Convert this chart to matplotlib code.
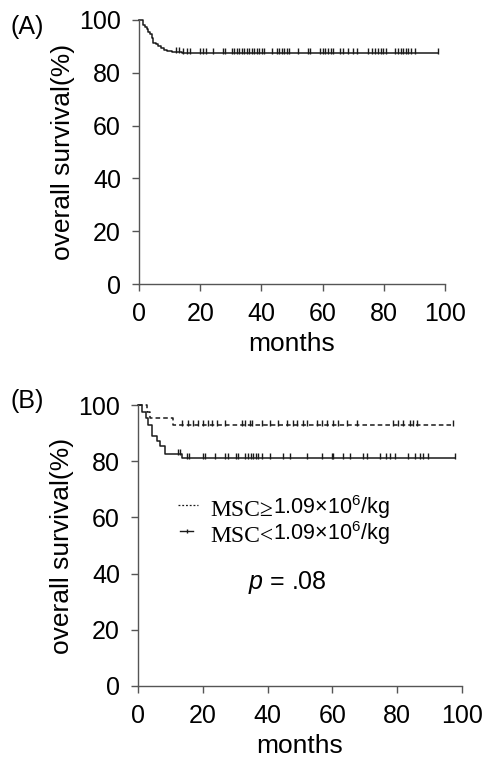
import matplotlib
matplotlib.use("Agg")
import matplotlib.pyplot as plt

plt.rcParams['font.family'] = ['Liberation Sans', 'DejaVu Sans']
plt.rcParams['mathtext.fontset'] = 'custom'
plt.rcParams['mathtext.rm'] = 'Liberation Sans'
plt.rcParams['mathtext.it'] = 'Liberation Sans:italic'

# (A) all patients: event times (months) and survival (%) after each event
all_t = [0, 1.4, 2.0, 2.5, 3.0, 3.6, 4.1, 4.5, 5.6, 6.3, 7.2, 8.3, 9.0, 10.7, 11.2, 14.0]
all_s = [100, 98.1, 97.5, 96.5, 95.6, 94.6, 93.3, 91.4, 90.8, 90.2, 89.3, 88.6, 88.3, 88.0, 87.8, 87.4]
all_end = 97.8
all_cens = [12.2, 13.2, 14.5, 15.6, 16.7, 19.9, 20.8, 21.9, 24.1, 27.3, 28.1, 30.3, 31.0,
            31.9, 32.7, 33.6, 34.4, 35.2, 36.1, 36.8, 37.7, 38.5, 39.3, 40.1, 40.9, 43.4,
            45.0, 45.9, 46.6, 47.5, 48.3, 49.1, 52.1, 55.1, 55.9, 59.2, 60.0, 60.8, 61.7,
            62.7, 63.5, 65.7, 66.8, 68.4, 69.8, 71.1, 74.9, 76.0, 77.1, 78.2, 79.0, 79.8,
            80.7, 83.7, 84.7, 85.5, 86.4, 87.3, 88.0, 88.8, 90.2, 97.8]

# (B) MSC dose >= 1.09e6/kg
hi_t = [0, 2.9, 3.7, 10.9]
hi_s = [100, 97.6, 95.2, 92.9]
hi_end = 97.3
hi_cens = [13.5, 15.5, 17.1, 18.6, 20.2, 21.7, 22.7, 24.3, 26.9, 32.0, 33.0, 34.6, 35.1,
           38.2, 40.7, 43.3, 45.9, 47.9, 49.0, 51.0, 52.1, 55.2, 56.7, 58.2, 60.3, 61.8,
           64.4, 67.5, 78.8, 80.3, 81.9, 84.0, 85.0, 86.0, 97.3]

# (B) MSC dose < 1.09e6/kg
lo_t = [0, 1.1, 2.5, 3.2, 4.2, 5.8, 6.8, 8.3, 13.5]
lo_s = [100, 97.6, 95.2, 92.9, 89.0, 87.3, 85.5, 82.5, 81.0]
lo_end = 97.8
lo_cens = [12.4, 13.0, 15.0, 15.8, 20.0, 20.7, 23.8, 26.9, 27.9, 30.2, 31.0, 33.0, 34.0,
           34.8, 35.6, 36.4, 37.1, 38.2, 40.7, 44.8, 46.9, 52.1, 56.7, 59.8, 60.3, 63.4,
           65.4, 69.5, 70.6, 74.7, 76.7, 77.8, 79.3, 83.4, 85.5, 87.0, 88.1, 89.6, 97.8]

ticks = [0, 20, 40, 60, 80, 100]
line_col = '#1a1a1a'
axis_col = '#555555'


def surv_at(times, surv, t):
    '''Survival value of a step curve at time t'''
    val = surv[0]
    for ti, si in zip(times, surv):
        if ti <= t:
            val = si
    return val


def km_curve(ax, times, surv, end, cens, ls='-'):
    '''Draws a Kaplan-Meier step curve with censoring ticks'''
    xs = list(times) + [end]
    ys = list(surv) + [surv[-1]]
    ax.step(xs, ys, where='post', color=line_col, lw=1.1, ls=ls, clip_on=False,
            dashes=(3, 2) if ls == '--' else (None, None))
    cy = [surv_at(times, surv, c) for c in cens]
    ax.plot(cens, [y + 0.7 for y in cy], ls='none', marker='|', ms=4, mew=1.0,
            color=line_col, clip_on=False)


def style_axes(ax):
    for side in ['top', 'right']:
        ax.spines[side].set_visible(False)
    for side in ['left', 'bottom']:
        ax.spines[side].set_color(axis_col)
        ax.spines[side].set_linewidth(1.0)
    ax.set_xlim(0, 100)
    ax.set_ylim(0, 100)
    ax.set_xticks(ticks)
    ax.set_yticks(ticks)
    ax.tick_params(axis='y', direction='out', length=5, width=1.0, color=axis_col,
                   labelsize=18, pad=8)
    ax.tick_params(axis='x', direction='out', length=5, width=1.0, color=axis_col,
                   labelsize=18, pad=8)
    ax.set_ylabel('overall survival(%)', fontsize=19, labelpad=3)
    ax.set_xlabel('months', fontsize=19, labelpad=4)


fig = plt.figure(figsize=(4.83, 7.6), dpi=100)
ax1 = fig.add_axes([0.2878, 0.6263, 0.6335, 0.3474])
ax2 = fig.add_axes([0.2857, 0.0974, 0.6708, 0.3697])

style_axes(ax1)
km_curve(ax1, all_t, all_s, all_end, all_cens)

style_axes(ax2)
km_curve(ax2, hi_t, hi_s, hi_end, hi_cens, ls='--')
km_curve(ax2, lo_t, lo_s, lo_end, lo_cens)

fig.text(27 / 483, 1 - 27 / 760, '(A)', fontsize=18, ha='center', va='center')
fig.text(27 / 483, 1 - 401 / 760, '(B)', fontsize=18, ha='center', va='center')

# legend drawn by hand so the label can mix serif and sans fonts
ax2.plot([0.123, 0.185], [0.645, 0.645], transform=ax2.transAxes, color=line_col,
         lw=0.9, dashes=(1.5, 1.5))
ax2.plot([0.13, 0.17], [0.55, 0.55], transform=ax2.transAxes, color=line_col, lw=1.0)
ax2.plot([0.15], [0.553], transform=ax2.transAxes, marker='|', ms=3.5, color=line_col)

labels = [('MSC\u2265', 0.624), ('MSC<', 0.531)]
for head, y in labels:
    t1 = ax2.text(0.222, y, head, transform=ax2.transAxes, fontsize=17,
                  family='Liberation Serif', ha='left', va='center')
    ax2.annotate('1.09\u00d710$^{6}$/kg', xy=(1.0, 0.0), xycoords=t1, fontsize=15.5,
                 ha='left', va='bottom')

ax2.text(0.34, 0.367, '$p$ = .08', transform=ax2.transAxes, fontsize=18,
         ha='left', va='center')

fig.savefig('out.png', dpi=100)
